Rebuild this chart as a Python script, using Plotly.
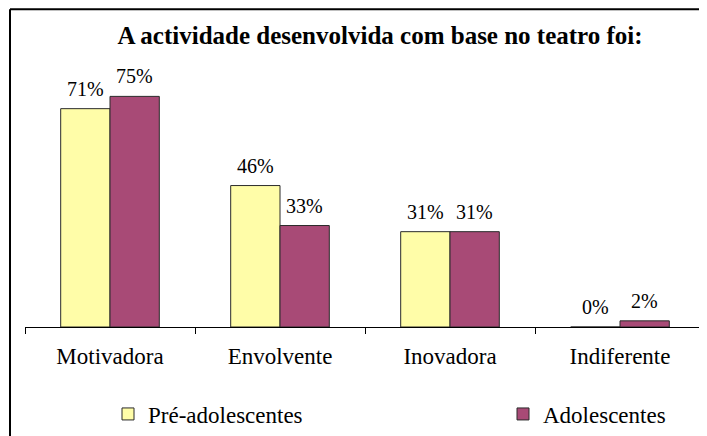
import plotly.graph_objects as go

categories = ["Motivadora", "Envolvente", "Inovadora", "Indiferente"]
pre_adolescentes = [71, 46, 31, 0]
adolescentes = [75, 33, 31, 2]
series_names = ["Pré-adolescentes", "Adolescentes"]
title_text = "A actividade desenvolvida com base no teatro foi:"

# the page body adds an 8px offset, so the figure is 8px smaller than the window
W, H = 699, 428
ML, MR, MT, MB = 17, 2, 73, 108
pw, ph = W - ML - MR, H - MT - MB

font_family = "Liberation Serif, Times New Roman, serif"
colors = ["#FFFDA8", "#A84A76"]
BARGAP = 0.42

fig = go.Figure()
for i, (name, vals) in enumerate(zip(series_names, [pre_adolescentes, adolescentes])):
    fig.add_trace(go.Bar(
        x=categories, y=vals, name=name,
        marker=dict(color=colors[i], line=dict(color="#2a2a2a", width=1)),
        legend="legend" if i == 0 else "legend2",
        hoverinfo="x+y",
    ))

# data labels above each bar
bar_px = (1 - BARGAP) * pw / len(categories) / 2
for i, vals in enumerate([pre_adolescentes, adolescentes]):
    shift = (-0.5 if i == 0 else 0.5) * bar_px
    for c, v in zip(categories, vals):
        fig.add_annotation(x=c, y=v, text=f"{v}%", showarrow=False,
                           xanchor="center", yanchor="bottom", xshift=shift, yshift=7,
                           font=dict(size=20, family=font_family, color="black"))

# outer frame (only top and left visible in the reference)
x0 = (2 - ML) / pw
y_top = (H - MB - 1) / ph
fig.add_shape(type="line", xref="paper", yref="paper", x0=x0, x1=1.2, y0=y_top, y1=y_top,
              line=dict(color="black", width=2))
fig.add_shape(type="line", xref="paper", yref="paper", x0=x0, x1=x0, y0=y_top, y1=-1,
              line=dict(color="black", width=2))

legend_common = dict(orientation="h", xanchor="left", yanchor="middle",
                     y=(H - MB - 406) / ph,
                     font=dict(size=23, family=font_family, color="black"),
                     bgcolor="rgba(0,0,0,0)")

fig.update_layout(
    width=W, height=H,
    margin=dict(l=ML, r=MR, t=MT, b=MB),
    paper_bgcolor="white", plot_bgcolor="white",
    barmode="group", bargap=BARGAP, bargroupgap=0,
    font=dict(family=font_family, color="black", size=20),
    title=dict(text="<b>" + title_text + "</b>", x=372 / W, xanchor="center",
               y=1 - 27 / H, yanchor="middle",
               font=dict(size=25, family=font_family, color="black")),
    xaxis=dict(showline=True, linecolor="black", linewidth=1,
               ticks="outside", tickson="boundaries", ticklen=6, tickcolor="black",
               ticklabelstandoff=8,
               tickfont=dict(size=23, family=font_family, color="black"),
               showgrid=False, fixedrange=True),
    yaxis=dict(range=[0, 80], visible=False, showgrid=False, zeroline=False),
    legend=dict(x=(100 - ML) / pw, **legend_common),
    legend2=dict(x=(495 - ML) / pw, **legend_common),
    showlegend=True,
)

fig.write_html("out.html")
